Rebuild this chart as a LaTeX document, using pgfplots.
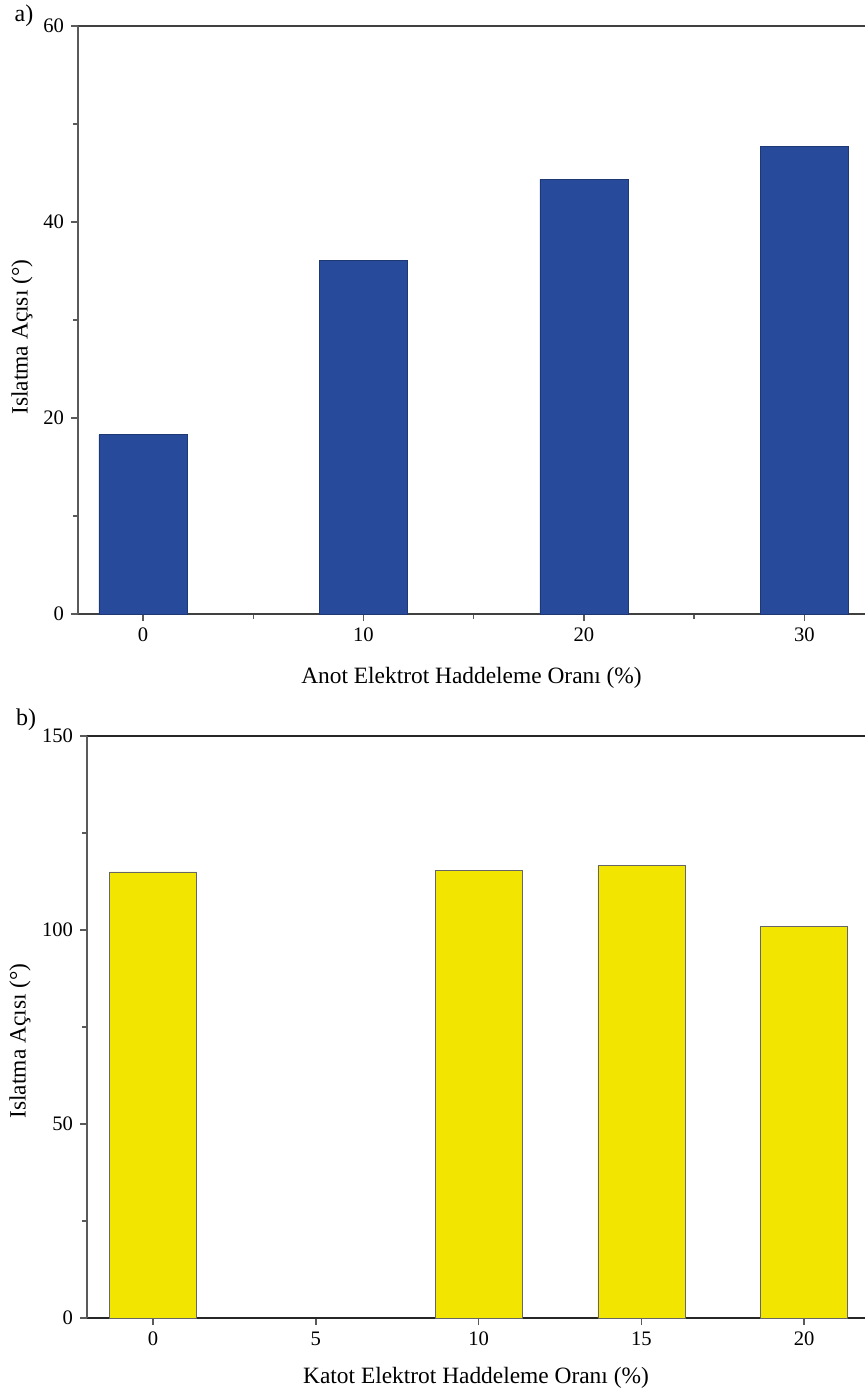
\documentclass[border=0pt]{standalone}
\usepackage{pgfplots}
\pgfplotsset{compat=1.18}
\usepackage{fontspec}
\setmainfont{Liberation Serif}
\definecolor{barblue}{RGB}{39,75,154}
\definecolor{baryellow}{RGB}{242,229,0}
\definecolor{axgray}{RGB}{90,90,90}
\pgfplotsset{
  common/.style={
    scale only axis,
    axis x line=box, axis y line=left,
    x axis line style={axgray, line width=0.8pt},
    y axis line style={-, axgray, line width=0.8pt},
    xtick pos=bottom, ytick pos=left,
    tick align=outside,
    major tick length=3.5pt, minor tick length=2.4pt,
    every tick/.style={axgray, line width=0.7pt},
    ticklabel style={font=\fontsize{10.3}{12}\selectfont, black},
    label style={font=\fontsize{11.7}{13}\selectfont},
    /pgf/number format/assume math mode=true,
    enlargelimits=false,
    ymin=0,
    clip=false,
  }
}
\begin{document}
\begin{tikzpicture}
\useasboundingbox (0,0) rectangle (432.5pt,-697pt);
\node[font=\fontsize{12}{14}\selectfont] at (12pt,-8pt) {a)};
\node[font=\fontsize{12}{14}\selectfont] at (13pt,-360pt) {b)};
\begin{axis}[common,
  at={(39pt,-307pt)}, anchor=south west,
  width=393.5pt, height=294pt,
  xmin=-2.95, xmax=32.75, ymax=60,
  xtick={0,10,20,30}, minor xtick={5,15,25},
  ytick={0,20,40,60}, minor ytick={10,30,50},
  x axis line style={black!75, line width=0.9pt},
  xlabel={Anot Elektrot Haddeleme Oranı (\%)},
  ylabel={Islatma Açısı (°)},
  xlabel style={at={(axis description cs:0.5,0)}, anchor=center, yshift=-32pt},
  ylabel style={at={(axis description cs:-0.0712,0.471)}, anchor=center},
]
\addplot[ybar, bar width=4, fill=barblue, draw=barblue!75!black, line width=0.3pt]
  coordinates {(0,18.3) (10,36.05) (20,44.35) (30,47.75)};
\end{axis}
\begin{axis}[common,
  at={(43.5pt,-659pt)}, anchor=south west,
  width=389pt, height=291pt,
  xmin=-2.03, xmax=21.87, ymax=150,
  xtick={0,5,10,15,20},
  ytick={0,50,100,150}, minor ytick={25,75,125},
  x axis line style={black!85, line width=1.1pt},
  xlabel={Katot Elektrot Haddeleme Oranı (\%)},
  ylabel={Islatma Açısı (°)},
  xlabel style={at={(axis description cs:0.5,0)}, anchor=center, yshift=-30pt},
  ylabel style={at={(axis description cs:-0.086,0.476)}, anchor=center},
]
\addplot[ybar, bar width=2.67, fill=baryellow, draw=black!60, line width=0.3pt]
  coordinates {(0,115.0) (10,115.3) (15,116.6) (20,101.0)};
\end{axis}
\end{tikzpicture}
\end{document}
